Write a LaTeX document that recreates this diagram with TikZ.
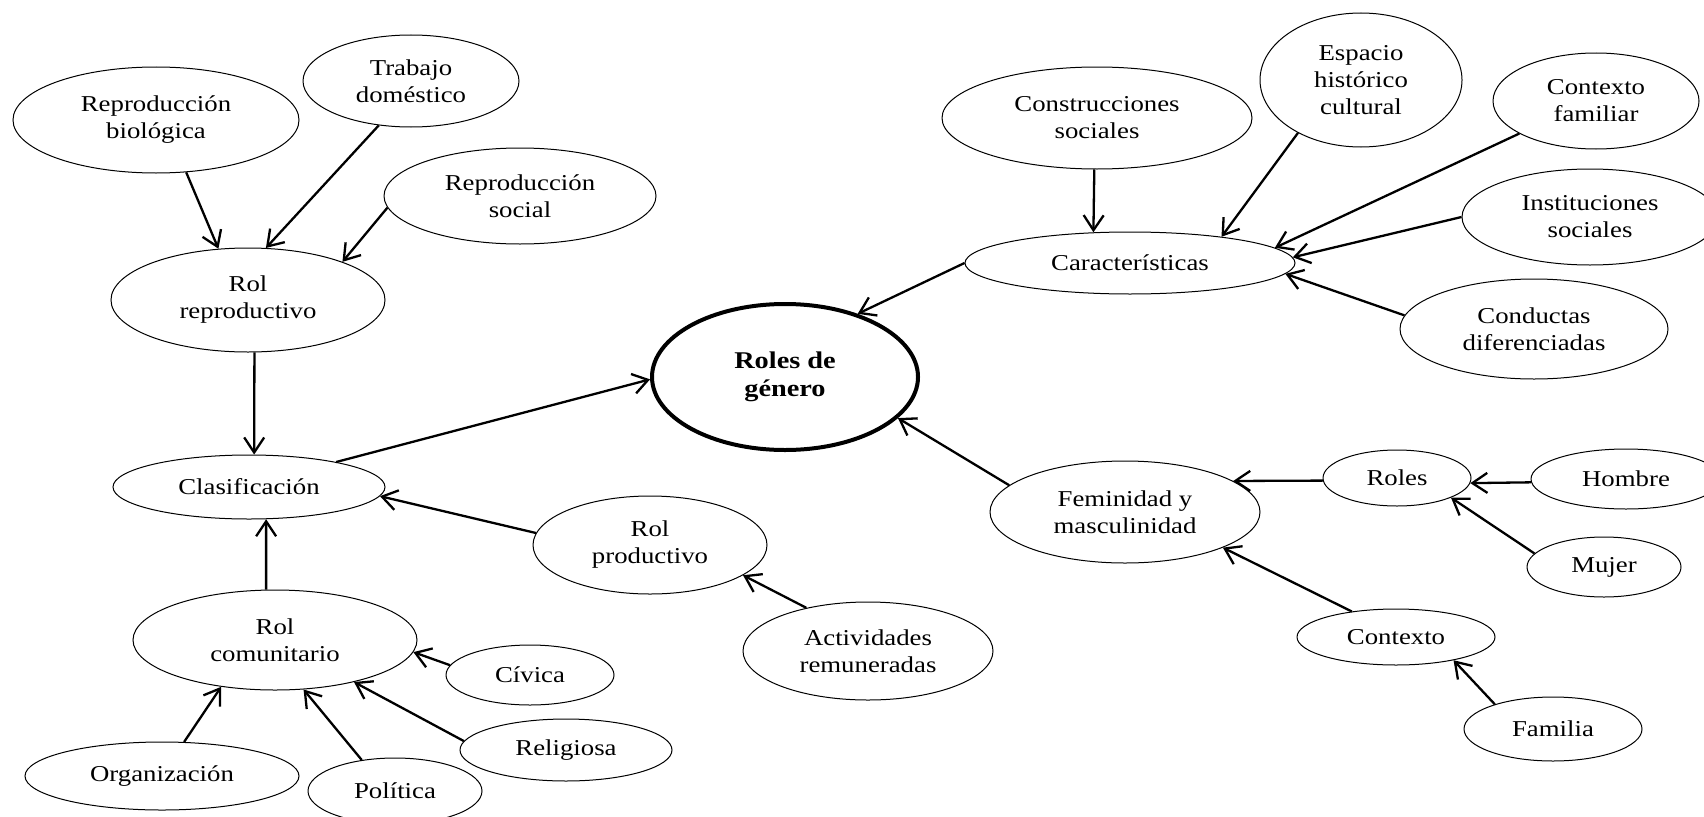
\documentclass[tikz,border=0pt]{standalone}
\usepackage{fontspec}
\setmainfont{Liberation Serif}[FakeStretch=1.18]
\usetikzlibrary{shapes.geometric,arrows.meta}
\newcommand{\nfont}{\fontsize{22.7}{27}\selectfont}
\newcommand{\bfont}{\fontsize{24}{28}\selectfont\bfseries}
\begin{document}
\begin{tikzpicture}[x=1pt,y=-1pt,
  ov/.style={draw, ellipse, line width=1pt, inner sep=0pt, align=center, font=\nfont},
  mainov/.style={draw, ellipse, line width=4pt, inner sep=0pt, align=center, font=\bfont},
  arr/.style={line width=2.3pt, -{Straight Barb[length=15pt,width=20pt]}},
]
\fill[white] (0,0) rectangle (1704,816);
\useasboundingbox (0,0) rectangle (1704,816);

\node[ov, minimum width=286, minimum height=106] (repbio) at (156,120) {Reproducción\\biológica};
\node[ov, minimum width=216, minimum height=92] (trab) at (411,81) {Trabajo\\doméstico};
\node[ov, minimum width=272, minimum height=96] (repsoc) at (520,196) {Reproducción\\social};
\node[ov, minimum width=274, minimum height=104] (rolrep) at (248,300) {Rol\\reproductivo};
\node[ov, minimum width=272, minimum height=64] (clas) at (249,487) {Clasificación};
\node[ov, minimum width=284, minimum height=100] (rolcom) at (275,640) {Rol\\comunitario};
\node[ov, minimum width=274, minimum height=68] (org) at (162,776) {Organización};
\node[ov, minimum width=174, minimum height=66] (pol) at (395,791) {Política};
\node[ov, minimum width=168, minimum height=60] (civ) at (530,675) {Cívica};
\node[ov, minimum width=212, minimum height=62] (rel) at (566,750) {Religiosa};
\node[ov, minimum width=234, minimum height=98] (rolprod) at (650,545) {Rol\\productivo};
\node[ov, minimum width=250, minimum height=98] (act) at (868,651) {Actividades\\remuneradas};
\node[mainov, minimum width=266, minimum height=146] (rg) at (785,377) {Roles de\\género};
\node[ov, minimum width=310, minimum height=102] (constr) at (1097,118) {Construcciones\\sociales};
\node[ov, minimum width=202, minimum height=134] (esp) at (1361,80) {Espacio\\histórico\\cultural};
\node[ov, minimum width=206, minimum height=96] (cfam) at (1596,101) {Contexto\\familiar};
\node[ov, minimum width=256, minimum height=96] (inst) at (1590,217) {Instituciones\\sociales};
\node[ov, minimum width=330, minimum height=62] (car) at (1130,263) {Características};
\node[ov, minimum width=268, minimum height=100] (cond) at (1534,329) {Conductas\\diferenciadas};
\node[ov, minimum width=270, minimum height=102] (fem) at (1125,512) {Feminidad y\\masculinidad};
\node[ov, minimum width=148, minimum height=56] (roles) at (1397,478) {Roles};
\node[ov, minimum width=190, minimum height=60] (hom) at (1626,479) {Hombre};
\node[ov, minimum width=154, minimum height=60] (muj) at (1604,567) {Mujer};
\node[ov, minimum width=198, minimum height=56] (ctx) at (1396,637) {Contexto};
\node[ov, minimum width=178, minimum height=64] (fam) at (1553,729) {Familia};

\draw[arr] (repbio.-60) -- (rolrep.120);
\draw[arr] (trab.-126) -- (rolrep.71);
\draw[arr] (repsoc.-175) -- (rolrep.22);
\draw[arr] (rolrep.-83) -- (clas.81);
\draw[arr] (clas.16) -- (rg.181);
\draw[arr] (rolprod.174) -- (clas.-4);
\draw[arr] (rolcom.100) -- (clas.-62);
\draw[arr] (civ.173) -- (rolcom.-5);
\draw[arr] (rel.175) -- (rolcom.-28);
\draw[arr] (org.57) -- (rolcom.-139);
\draw[arr] (pol.137) -- (rolcom.-60);
\draw[arr] (act.145) -- (rolprod.-18);
\draw[arr] (constr.-93) -- (car.140);
\draw[arr] (esp.-140) -- (car.16);
\draw[arr] (cfam.-157) -- (car.6.5);
\draw[arr] (inst.180) -- (car.2);
\draw[arr] (cond.174) -- (car.-4);
\draw[arr] (car.180) -- (rg.41);
\draw[arr] (fem.167) -- (rg.-20);
\draw[arr] (roles.182) -- (fem.16);
\draw[arr] (hom.182) -- (roles.-4);
\draw[arr] (muj.169) -- (roles.-20);
\draw[arr] (ctx.150) -- (fem.-20);
\draw[arr] (fam.157) -- (ctx.-22);
\end{tikzpicture}
\end{document}
